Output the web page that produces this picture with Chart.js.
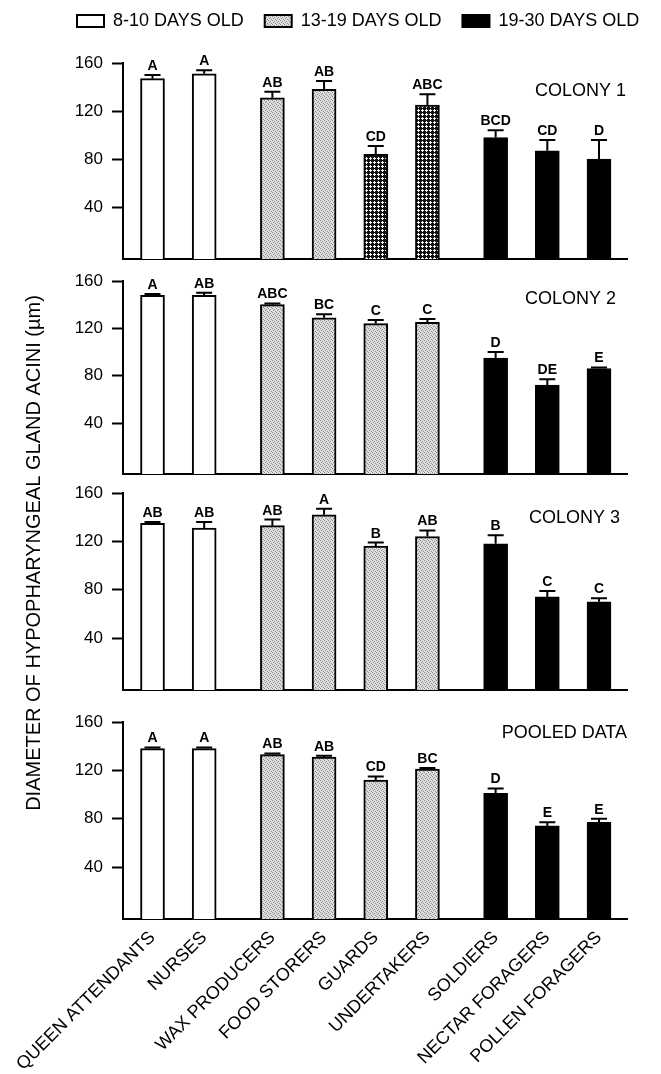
<!DOCTYPE html>
<html>
<head>
<meta charset="utf-8">
<script src="https://cdn.jsdelivr.net/npm/chart.js@4.4.1/dist/chart.umd.min.js"></script>
<style>
html, body { margin: 0; padding: 0; background: #fff; overflow: hidden; }
#wrap { position: relative; width: 661px; height: 1074px; }
#wrap canvas { position: absolute; left: 0; top: 0; }
</style>
</head>
<body>
<div id="wrap">
<canvas id="frame" width="661" height="1074"></canvas>
<canvas id="p1" width="661" height="1074"></canvas>
<canvas id="p2" width="661" height="1074"></canvas>
<canvas id="p3" width="661" height="1074"></canvas>
<canvas id="p4" width="661" height="1074"></canvas>
</div>
<script>
// worker task groups, in plot order
const ROLES = ['QUEEN ATTENDANTS', 'NURSES', 'WAX PRODUCERS', 'FOOD STORERS', 'GUARDS',
	'UNDERTAKERS', 'SOLDIERS', 'NECTAR FORAGERS', 'POLLEN FORAGERS'];
const AGE_GROUP = [0, 0, 1, 1, 1, 1, 2, 2, 2];
const AGE_LABELS = ['8-10 DAYS OLD', '13-19 DAYS OLD', '19-30 DAYS OLD'];
const Y_TICKS = [40, 80, 120, 160];
const Y_TITLE = 'DIAMETER OF HYPOPHARYNGEAL GLAND ACINI (µm)';

const COLONY1_MEAN = [147, 151, 131, 138, 84, 125, 98, 87, 80];
const COLONY1_SE = [3, 3, 5, 7, 7, 9, 6, 9, 16];
const COLONY1_LETTERS = ['A', 'A', 'AB', 'AB', 'CD', 'ABC', 'BCD', 'CD', 'D'];

const COLONY2_MEAN = [148, 148, 140, 129, 124, 125, 95, 72, 86];
const COLONY2_SE = [1, 2, 1, 3, 3, 3, 5, 5, 1];
const COLONY2_LETTERS = ['A', 'AB', 'ABC', 'BC', 'C', 'C', 'D', 'DE', 'E'];

const COLONY3_MEAN = [135, 131, 133, 142, 116, 124, 118, 74, 70];
const COLONY3_SE = [1, 5, 5, 5, 3, 5, 7, 5, 3];
const COLONY3_LETTERS = ['AB', 'AB', 'AB', 'A', 'B', 'AB', 'B', 'C', 'C'];

const POOLED_MEAN = [138, 138, 133, 131, 112, 121, 101, 74, 77];
const POOLED_SE = [1, 1, 1, 1, 3, 1, 4, 3, 3];
const POOLED_LETTERS = ['A', 'A', 'AB', 'AB', 'CD', 'BC', 'D', 'E', 'E'];

// layout
const PAGE_W = 661, PAGE_H = 1074;
const AXIS_LEFT = 123, AXIS_RIGHT = 627;
const Y_MIN = -3, Y_MAX = 160;
const GROUP_GAP = 0.32;
const X_MIN = -0.571, X_MAX = 9.182;
const X_LABEL_H = 155;
const FONT = "'Liberation Sans', Arial, Helvetica, sans-serif";

const PANELS = [
	{ id: 'p1', title: 'COLONY 1', mean: COLONY1_MEAN, se: COLONY1_SE, letters: COLONY1_LETTERS,
		top: 63, bottom: 259, titleAt: 137, titleInset: 1, hatched: [4, 5] },
	{ id: 'p2', title: 'COLONY 2', mean: COLONY2_MEAN, se: COLONY2_SE, letters: COLONY2_LETTERS,
		top: 281, bottom: 474, titleAt: 145, titleInset: 11, hatched: [] },
	{ id: 'p3', title: 'COLONY 3', mean: COLONY3_MEAN, se: COLONY3_SE, letters: COLONY3_LETTERS,
		top: 493, bottom: 690, titleAt: 139, titleInset: 7, hatched: [] },
	{ id: 'p4', title: 'POOLED DATA', mean: POOLED_MEAN, se: POOLED_SE, letters: POOLED_LETTERS,
		top: 722, bottom: 919, titleAt: 151, titleInset: 0, hatched: [], xLabels: true },
];

function makePattern(size, draw) {
	const c = document.createElement('canvas');
	c.width = c.height = size;
	const g = c.getContext('2d');
	draw(g, size);
	return g.createPattern(c, 'repeat');
}

const STIPPLE = makePattern(4, (g) => {
	g.fillStyle = '#dedede';
	g.fillRect(0, 0, 4, 4);
	g.fillStyle = '#8c8c8c';
	[[0, 0], [2, 1], [1, 2], [3, 3]].forEach(([x, y]) => g.fillRect(x, y, 1, 1));
});

// dark lattice with small light diamonds
const CROSSHATCH = makePattern(4, (g) => {
	g.fillStyle = '#111';
	g.fillRect(0, 0, 4, 4);
	g.fillStyle = '#f4f4f4';
	[[2, 1], [1, 2], [2, 2], [3, 2], [2, 3]].forEach(([x, y]) => g.fillRect(x, y, 1, 1));
});

const AGE_FILLS = ['#ffffff', STIPPLE, '#000000'];

function barX(i) {
	return i + GROUP_GAP * AGE_GROUP[i];
}

// error bars, significance letters and panel caption
const panelDecor = {
	id: 'panelDecor',
	afterDatasetsDraw(chart, args, opts) {
		const p = opts.panel;
		const ctx = chart.ctx;
		const yScale = chart.scales.y;
		const bars = chart.getDatasetMeta(0).data;
		ctx.save();
		ctx.strokeStyle = '#000';
		ctx.lineWidth = 2;
		ctx.fillStyle = '#000';
		ctx.font = 'bold 14px ' + FONT;
		ctx.textAlign = 'center';
		ctx.textBaseline = 'alphabetic';
		bars.forEach((bar, i) => {
			const yTop = yScale.getPixelForValue(p.mean[i] + p.se[i]);
			ctx.beginPath();
			ctx.moveTo(bar.x, bar.y);
			ctx.lineTo(bar.x, yTop);
			ctx.moveTo(bar.x - 8, yTop);
			ctx.lineTo(bar.x + 8, yTop);
			ctx.stroke();
			ctx.fillText(p.letters[i], bar.x, yTop - 5);
		});
		ctx.font = '18px ' + FONT;
		ctx.textAlign = 'right';
		ctx.textBaseline = 'middle';
		ctx.fillText(p.title, chart.chartArea.right - p.titleInset, yScale.getPixelForValue(p.titleAt));
		ctx.restore();
	},
};

const yTitle = {
	id: 'yTitle',
	afterDraw(chart) {
		const ctx = chart.ctx;
		ctx.save();
		ctx.translate(34, 553);
		ctx.rotate(-Math.PI / 2);
		ctx.font = '20px ' + FONT;
		ctx.fillStyle = '#000';
		ctx.textAlign = 'center';
		ctx.textBaseline = 'middle';
		ctx.fillText(Y_TITLE, 0, 0);
		ctx.restore();
	},
};

// legend + shared axis title
new Chart(document.getElementById('frame'), {
	type: 'bar',
	data: {
		labels: [],
		datasets: AGE_LABELS.map((label, g) => ({
			label: label,
			data: [],
			backgroundColor: AGE_FILLS[g],
			borderColor: '#000',
			borderWidth: 2,
		})),
	},
	options: {
		responsive: false,
		animation: false,
		events: [],
		layout: { padding: { top: -9, left: 56, right: -20, bottom: 0 } },
		scales: { x: { display: false }, y: { display: false } },
		plugins: {
			tooltip: { enabled: false },
			legend: {
				display: true,
				position: 'top',
				align: 'start',
				labels: {
					boxWidth: 27,
					boxHeight: 12,
					padding: 21,
					color: '#000',
					font: { family: FONT, size: 18 },
					generateLabels: () => AGE_LABELS.map((text, g) => ({
						text: text,
						fillStyle: AGE_FILLS[g],
						strokeStyle: '#000',
						lineWidth: 2,
						hidden: false,
						datasetIndex: g,
					})),
				},
			},
		},
	},
	plugins: [yTitle],
});

let Charts = [];
for (let c = 0; c < PANELS.length; c++) {
	const p = PANELS[c];
	const fills = AGE_GROUP.map((g, i) => (p.hatched.includes(i) ? CROSSHATCH : AGE_FILLS[g]));
	const xHeight = p.xLabels ? X_LABEL_H : 0;
	const chart = new Chart(document.getElementById(p.id), {
		type: 'bar',
		data: {
			datasets: [
				{
					label: p.title,
					data: p.mean.map((v, i) => ({ x: barX(i), y: v })),
					backgroundColor: fills,
					borderColor: '#000',
					borderWidth: 2,
					barThickness: 24,
					base: Y_MIN,
				},
			],
		},
		options: {
			responsive: false,
			animation: false,
			events: [],
			layout: {
				padding: { top: p.top, bottom: PAGE_H - p.bottom - xHeight, left: 0, right: PAGE_W - AXIS_RIGHT },
			},
			plugins: {
				legend: { display: false },
				tooltip: { enabled: false },
				panelDecor: { panel: p },
			},
			scales: {
				x: {
					type: 'linear',
					min: X_MIN,
					max: X_MAX,
					offset: false,
					afterFit: (s) => { s.height = xHeight; },
					afterBuildTicks: (s) => { s.ticks = ROLES.map((r, i) => ({ value: barX(i) })); },
					grid: { display: true, drawOnChartArea: false, drawTicks: false },
					border: { display: true, color: '#000', width: 2 },
					ticks: {
						display: !!p.xLabels,
						autoSkip: false,
						minRotation: 45,
						maxRotation: 45,
						padding: 8,
						color: '#000',
						font: { family: FONT, size: 18 },
						callback: (v, i) => ROLES[i],
					},
				},
				y: {
					min: Y_MIN,
					max: Y_MAX,
					afterFit: (s) => { s.width = AXIS_LEFT; },
					afterBuildTicks: (s) => { s.ticks = Y_TICKS.map((v) => ({ value: v })); },
					grid: { display: true, drawOnChartArea: false, drawTicks: true, tickLength: 11, tickWidth: 2, tickColor: '#000' },
					border: { display: true, color: '#000', width: 2 },
					ticks: { padding: 9, color: '#000', font: { family: FONT, size: 17 } },
				},
			},
		},
		plugins: [panelDecor],
	});
	Charts.push(chart);
}
</script>
</body>
</html>
